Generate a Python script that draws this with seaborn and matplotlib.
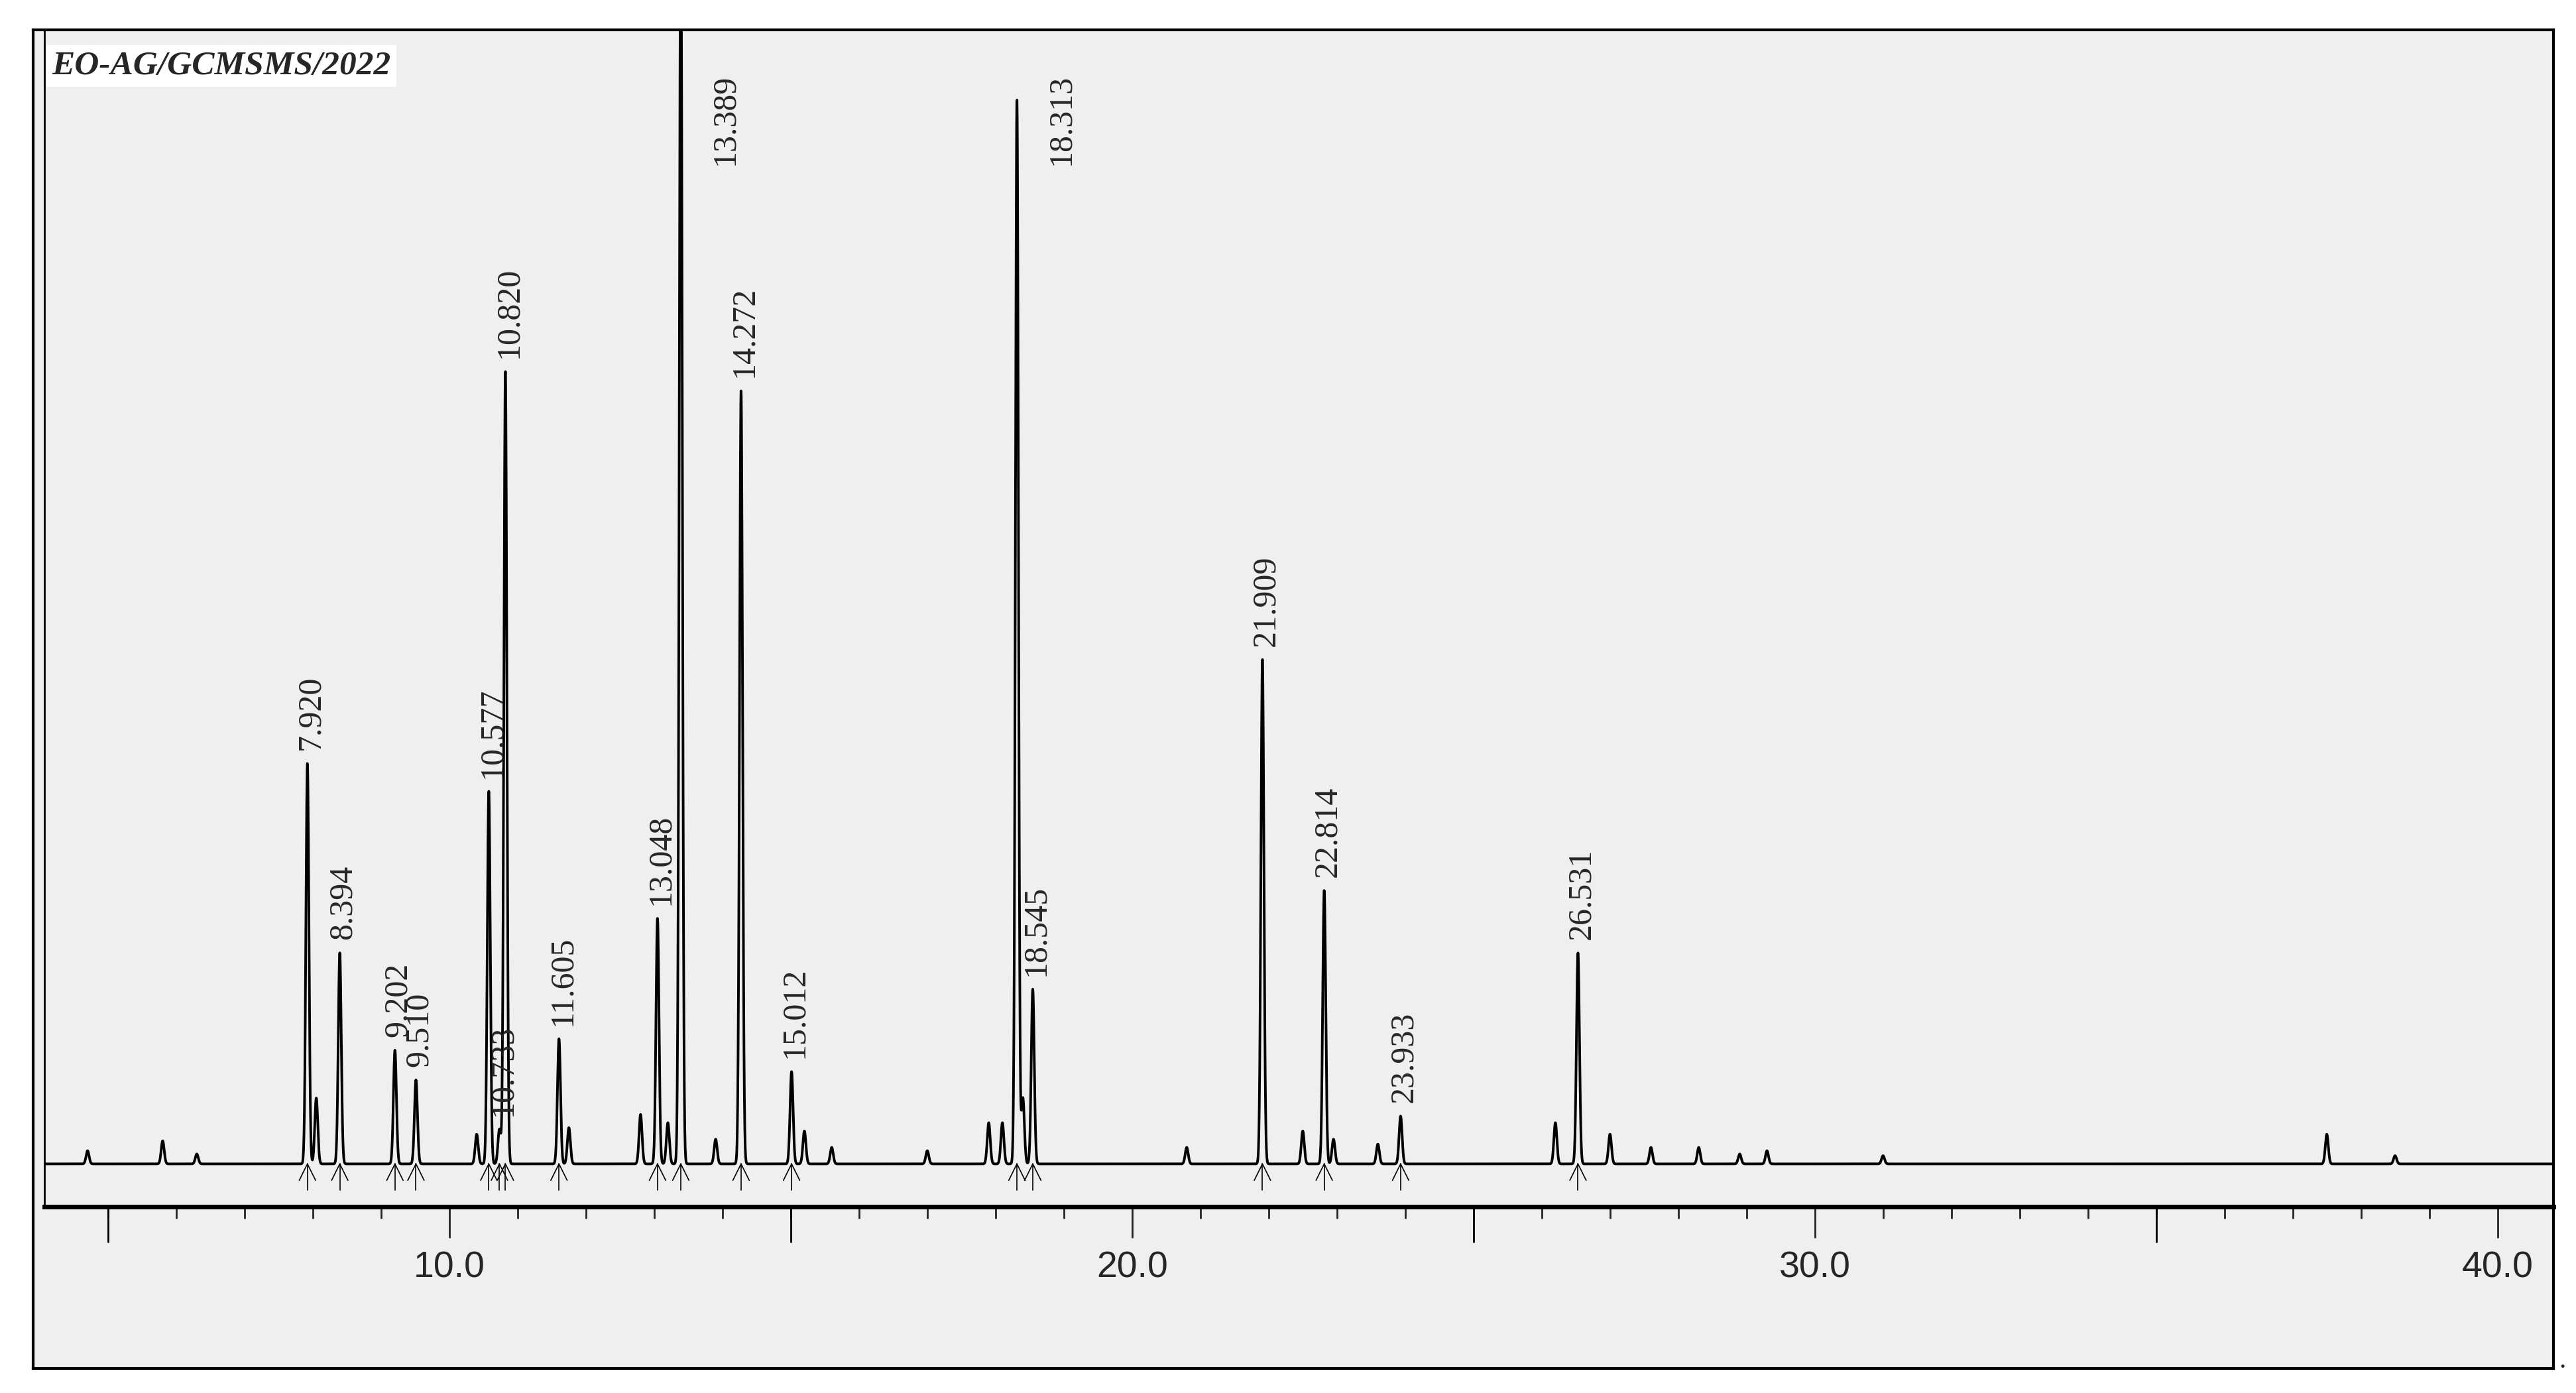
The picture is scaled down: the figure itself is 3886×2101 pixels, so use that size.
import numpy as np
import pandas as pd
import matplotlib.pyplot as plt
import seaborn as sns

sns.set_style('white')
plt.rcParams['font.family'] = ['Liberation Serif', 'DejaVu Serif']

# labelled peaks: retention time (min) and height (arbitrary units above baseline)
peak_rt = [7.920, 8.394, 9.202, 9.510, 10.577, 10.733, 10.820, 11.605, 13.048,
           13.389, 14.272, 15.012, 18.313, 18.545, 21.909, 22.814, 23.933, 26.531]
peak_height = [243, 128, 69, 51, 226, 21, 481, 76, 149,
               760, 469, 56, 646, 106, 306, 166, 29, 128]
peak_labels = ['7.920', '8.394', '9.202', '9.510', '10.577', '10.733', '10.820', '11.605', '13.048',
               '13.389', '14.272', '15.012', '18.313', '18.545', '21.909', '22.814', '23.933', '26.531']

# small unlabelled peaks on the baseline
minor_rt = [4.7, 5.8, 6.3, 8.05, 10.4, 11.75, 12.8, 13.2, 13.9, 15.2, 15.6, 17.0, 17.9, 18.1,
            18.4, 20.8, 22.5, 22.95, 23.6, 26.2, 27.0, 27.6, 28.3, 28.9, 29.3, 31.0, 37.5, 38.5]
minor_height = [8, 14, 6, 40, 18, 22, 30, 25, 15, 20, 10, 8, 25, 25,
                40, 10, 20, 15, 12, 25, 18, 10, 10, 6, 8, 5, 18, 5]

x = np.linspace(4.0, 41.0, 12000)
y = np.zeros_like(x)
for c, h in zip(peak_rt + minor_rt, peak_height + minor_height):
    y += h * np.exp(-0.5 * ((x - c) / 0.022) ** 2)
df = pd.DataFrame({'rt': x, 'signal': y})

fig = plt.figure(figsize=(38.87, 21.01), dpi=100, facecolor='white')
bg = fig.add_axes([0.0128, 0.0178, 0.9783, 0.961], zorder=0)
bg.set_facecolor('#efefef')
bg.set_xticks([])
bg.set_yticks([])
for s in bg.spines.values():
    s.set_linewidth(3)
    s.set_color('black')

ax = fig.add_axes([0.0173, 0.1337, 0.9737, 0.845], zorder=1)
ax.set_facecolor('none')
sns.lineplot(data=df, x='rt', y='signal', ax=ax, color='black', lw=2.8)

ax.set_xlim(4.07, 40.82)
ax.set_ylim(-26, 688)

for rt, h, lab in zip(peak_rt, peak_height, peak_labels):
    ax.plot([rt, rt], [0, -16], color='black', lw=1.2)
    ax.plot([rt - 0.12, rt, rt + 0.12], [-10, 0, -10], color='black', lw=1.2)
    # labels of the tallest peaks sit beside the peak near the top
    lx = rt + 0.65 if h > 600 else rt + 0.05
    ax.text(lx, min(h + 8, 606), lab, rotation=90, ha='center', va='bottom',
            fontsize=36, clip_on=False)

ax.text(0.003, 0.982, 'EO-AG/GCMSMS/2022', transform=ax.transAxes, fontsize=37,
        fontweight='bold', fontstyle='italic', va='top', ha='left',
        bbox=dict(facecolor='white', edgecolor='none', pad=6))
fig.text(0.993, 0.018, '.', fontsize=30)

ax.set_xticks([10, 20, 30, 40])
ax.set_xticklabels(['10.0', '20.0', '30.0', '40.0'], family='Liberation Sans', fontsize=40)
ax.set_xticks(np.arange(5, 41, 1), minor=True)
ax.tick_params(axis='x', which='major', direction='out', length=34, width=2, pad=14, bottom=True)
ax.tick_params(axis='x', which='minor', direction='out', length=13, width=2, bottom=True)
for t in [5, 15, 25, 35]:
    ax.plot([t, t], [0, -0.03], transform=ax.get_xaxis_transform(), color='black', lw=2, clip_on=False)
ax.set_yticks([])
ax.set_xlabel('')
ax.set_ylabel('')
for s in ['left', 'top', 'right']:
    ax.spines[s].set_linewidth(2)
    ax.spines[s].set_color('black')
ax.spines['bottom'].set_linewidth(5)
ax.spines['bottom'].set_color('black')

fig.savefig('out.png', dpi=100)
